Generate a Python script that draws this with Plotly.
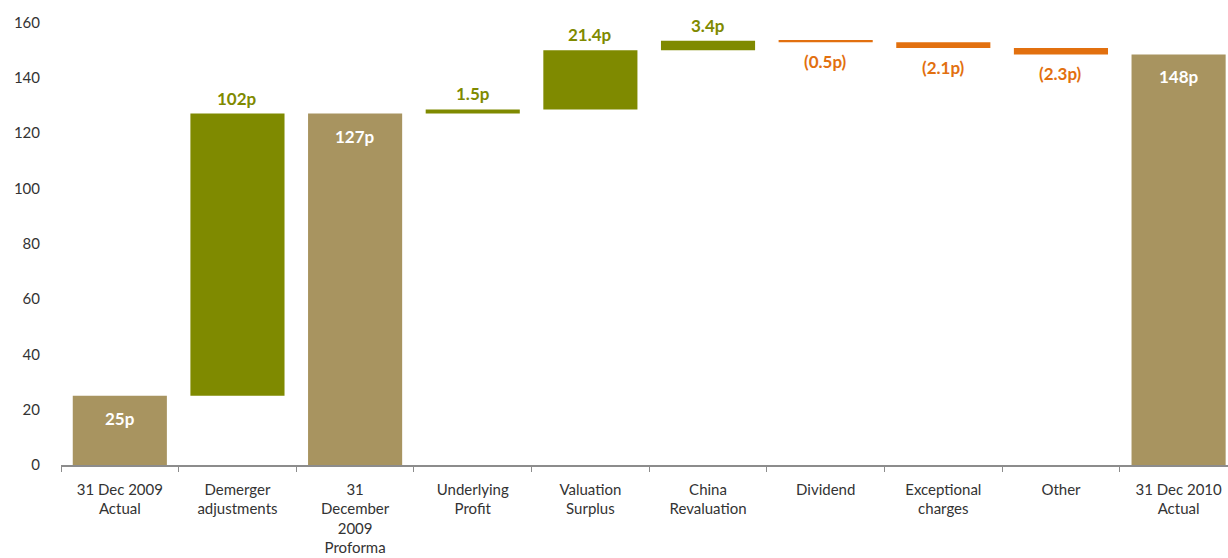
import plotly.graph_objects as go

categories = ["31 Dec 2009<br>Actual", "Demerger<br>adjustments", "31<br>December<br>2009<br>Proforma",
              "Underlying<br>Profit", "Valuation<br>Surplus", "China<br>Revaluation", "Dividend",
              "Exceptional<br>charges", "Other", "31 Dec 2010<br>Actual"]
measures = ["absolute", "relative", "total", "relative", "relative", "relative", "relative",
            "relative", "relative", "total"]
values = [25, 102, 0, 1.5, 21.4, 3.4, -0.5, -2.1, -2.3, 0]
labels = ["25p", "102p", "127p", "1.5p", "21.4p", "3.4p", "(0.5p)", "(2.1p)", "(2.3p)", "148p"]
y_ticks = [0, 20, 40, 60, 80, 100, 120, 140, 160]

TAN = "#A89460"
OLIVE = "#7F8A00"
ORANGE = "#E2700F"

fig = go.Figure(go.Waterfall(
    x=categories,
    measure=measures,
    y=values,
    increasing=dict(marker=dict(color=OLIVE)),
    decreasing=dict(marker=dict(color=ORANGE)),
    totals=dict(marker=dict(color=TAN)),
    connector=dict(visible=False),
    cliponaxis=False,
    hoverinfo="skip",
))

# label placement derived from the running total
running = 0.0
for cat, m, v, lab in zip(categories, measures, values, labels):
    if m == "absolute":
        running = v
        top = running
        kind = "total"
    elif m == "total":
        top = running
        kind = "total"
    else:
        running += v
        kind = "up" if v >= 0 else "down"
    font = dict(family="Lato", size=17, weight="bold")
    if kind == "total":
        fig.add_annotation(x=cat, y=top, text=lab, showarrow=False, yanchor="top", yshift=-10,
                           font=dict(font, color="white"))
    elif kind == "up":
        fig.add_annotation(x=cat, y=running, text=lab, showarrow=False, yanchor="bottom", yshift=3,
                           font=dict(font, color=OLIVE))
    else:
        fig.add_annotation(x=cat, y=running, text=lab, showarrow=False, yanchor="top", yshift=-7,
                           font=dict(font, color=ORANGE))

fig.update_layout(
    width=1228, height=558,
    margin=dict(l=61, r=0, t=14, b=93),
    paper_bgcolor="white", plot_bgcolor="white",
    bargap=0.21,
    showlegend=False,
    font=dict(family="Lato", size=15, color="#333333"),
)
fig.update_xaxes(
    type="category",
    range=[-0.5, 9.42],
    automargin=False,
    showline=True, linecolor="#8c8c8c", linewidth=1.5,
    ticks="outside", tickson="boundaries", ticklen=5, tickcolor="#8c8c8c",
    showgrid=False, tickangle=0,
    tickfont=dict(family="Lato", size=15, color="#333333"),
    ticklabelstandoff=10,
)
fig.update_yaxes(
    range=[0, 163],
    tickvals=y_ticks,
    automargin=False,
    showgrid=False, zeroline=False, showline=False,
    tickfont=dict(family="Lato", size=15, color="#333333"),
    ticklabelstandoff=20,
)

fig.write_html("out.html")
